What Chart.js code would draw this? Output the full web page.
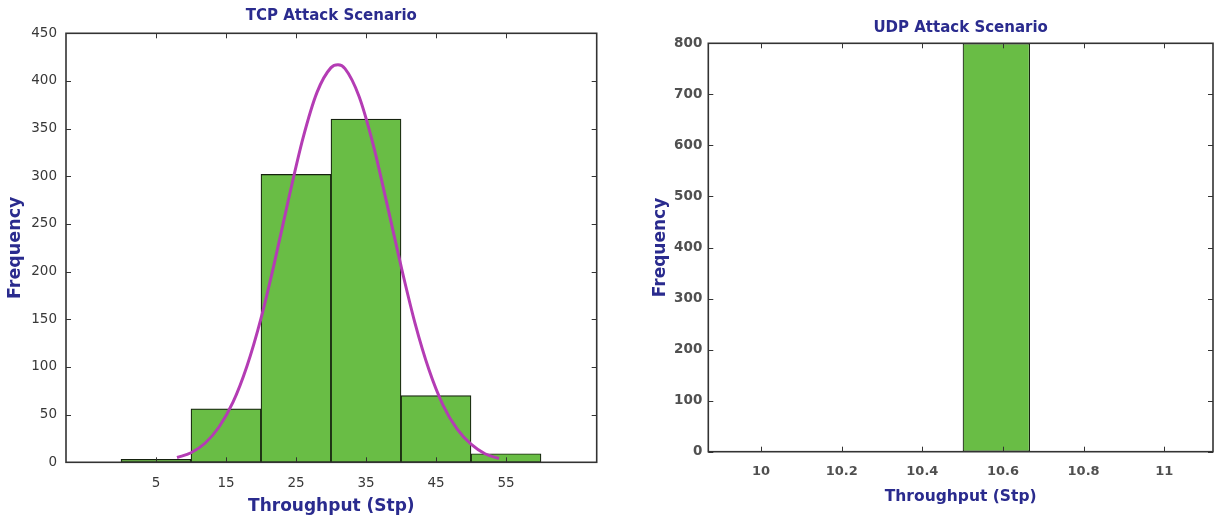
<!DOCTYPE html>
<html>
<head>
<meta charset="utf-8">
<script src="https://cdn.jsdelivr.net/npm/chart.js@4.4.1/dist/chart.umd.min.js"></script>
<style>
  html, body { margin: 0; padding: 0; background: #ffffff; }
  body { width: 1215px; height: 525px; position: relative; overflow: hidden; }
  canvas { position: absolute; top: 0; }
  #tcp { left: 0px; }
  #udp { left: 640px; }
</style>
</head>
<body>
<canvas id="tcp" width="610" height="525"></canvas>
<canvas id="udp" width="575" height="525"></canvas>
<script>
// ---------- TCP data ----------
const tcpBinCenters = [5, 15, 25, 35, 45, 55];
const tcpCounts     = [3, 56, 302, 360, 70, 9];
const tcpFitX = [8, 10, 12, 14, 16, 18, 20, 22, 24, 26, 28, 30, 31, 32, 34, 36, 38, 40, 42, 44, 46, 48, 50, 52, 54];
const tcpFitY = [5, 10, 20, 37, 63, 101, 151, 212, 278, 340, 388, 414, 417, 413, 384, 334, 271, 206, 146, 97, 60, 35, 19, 9, 4];
const tcpXTicks = [5, 15, 25, 35, 45, 55];
const tcpYTicks = [0, 50, 100, 150, 200, 250, 300, 350, 400, 450];

// ---------- UDP data ----------
const udpBinLeft  = [10.5];
const udpBinRight = [10.667];
const udpCounts   = [800];
const udpXTicks = [10, 10.2, 10.4, 10.6, 10.8, 11];
const udpXTickLabels = ['10', '10.2', '10.4', '10.6', '10.8', '11'];
const udpYTicks = [0, 100, 200, 300, 400, 500, 600, 700, 800];

const NAVY = '#2a2b8e';
const GREEN = '#69bd45';
const BAR_EDGE = '#16220f';
const CURVE = '#b43cb4';

const framePlugin = {
  id: 'matlabFrame',
  afterDatasetsDraw(chart, args, opts) {
    const {ctx, chartArea: a} = chart;
    const x = chart.scales.x, y = chart.scales.y;
    const L = opts.tickLen;
    ctx.save();
    ctx.strokeStyle = opts.color;
    ctx.lineWidth = 1;
    ctx.beginPath();
    x.ticks.forEach(t => {
      const px = Math.round(x.getPixelForValue(t.value)) + 0.5;
      ctx.moveTo(px, a.bottom); ctx.lineTo(px, a.bottom - L);
      ctx.moveTo(px, a.top); ctx.lineTo(px, a.top + L);
    });
    y.ticks.forEach(t => {
      const py = Math.round(y.getPixelForValue(t.value)) + 0.5;
      ctx.moveTo(a.left, py); ctx.lineTo(a.left + L, py);
      ctx.moveTo(a.right, py); ctx.lineTo(a.right - L, py);
    });
    ctx.stroke();
    ctx.lineWidth = opts.frameWidth;
    ctx.strokeRect(a.left, a.top, a.right - a.left, a.bottom - a.top);
    ctx.restore();
  }
};

function setTicks(values) {
  return function (scale) { scale.ticks = values.map(v => ({value: v})); };
}

// ---------- TCP chart ----------
new Chart(document.getElementById('tcp'), {
  type: 'bar',
  data: {
    datasets: [
      {
        type: 'line',
        order: 0,
        data: tcpFitX.map((v, i) => ({x: v, y: tcpFitY[i]})),
        borderColor: CURVE,
        borderWidth: 3,
        pointRadius: 0,
        fill: false,
        cubicInterpolationMode: 'monotone'
      },
      {
        type: 'bar',
        order: 1,
        data: tcpBinCenters.map((v, i) => ({x: v, y: tcpCounts[i]})),
        backgroundColor: GREEN,
        borderColor: BAR_EDGE,
        borderWidth: 1.2,
        borderSkipped: false,
        barPercentage: 1,
        categoryPercentage: 1
      }
    ]
  },
  options: {
    responsive: false,
    animation: false,
    layout: { padding: { left: 0, right: 13.3, top: 0, bottom: 0 } },
    plugins: {
      legend: { display: false },
      tooltip: { enabled: false },
      title: {
        display: true,
        fullSize: false,
        text: 'TCP Attack Scenario',
        color: NAVY,
        font: { family: 'DejaVu Sans', size: 15, weight: 'bold' },
        padding: { top: 7, bottom: 8.3 }
      },
      matlabFrame: { color: '#333333', tickLen: 5, frameWidth: 1.6 }
    },
    scales: {
      x: {
        type: 'linear',
        min: -7.86,
        max: 67.96,
        offset: false,
        afterBuildTicks: setTicks(tcpXTicks),
        afterFit(scale) { scale.height = 62.7; },
        grid: { display: false, drawTicks: false },
        border: { display: false },
        ticks: {
          color: '#383838',
          padding: 13,
          maxRotation: 0,
          autoSkip: false,
          font: { family: 'DejaVu Sans', size: 13.5 }
        },
        title: {
          display: true,
          text: 'Throughput (Stp)',
          color: NAVY,
          font: { family: 'DejaVu Sans', size: 17, weight: 'bold' },
          padding: { top: 0, bottom: 7.8 }
        }
      },
      y: {
        min: 0,
        max: 450,
        afterBuildTicks: setTicks(tcpYTicks),
        afterFit(scale) { scale.width = 66; },
        grid: { display: false, drawTicks: false },
        border: { display: false },
        ticks: {
          color: '#383838',
          padding: 9,
          autoSkip: false,
          font: { family: 'DejaVu Sans', size: 13.5 }
        },
        title: {
          display: true,
          text: 'Frequency',
          color: NAVY,
          font: { family: 'DejaVu Sans', size: 17.5, weight: 'bold' },
          padding: { top: 5, bottom: 0 }
        }
      }
    }
  },
  plugins: [framePlugin]
});

// ---------- UDP chart ----------
const udpTickStep = udpXTicks[1] - udpXTicks[0];
const udpBinCenters = udpBinLeft.map((l, i) => (l + udpBinRight[i]) / 2);
const udpBarPct = (udpBinRight[0] - udpBinLeft[0]) / udpTickStep;

new Chart(document.getElementById('udp'), {
  type: 'bar',
  data: {
    datasets: [
      {
        type: 'bar',
        data: udpBinCenters.map((v, i) => ({x: v, y: udpCounts[i]})),
        backgroundColor: GREEN,
        borderColor: BAR_EDGE,
        borderWidth: 1.2,
        borderSkipped: false,
        barPercentage: udpBarPct,
        categoryPercentage: 1
      }
    ]
  },
  options: {
    responsive: false,
    animation: false,
    layout: { padding: { left: 0, right: 2, top: 0, bottom: 0 } },
    plugins: {
      legend: { display: false },
      tooltip: { enabled: false },
      title: {
        display: true,
        fullSize: false,
        text: 'UDP Attack Scenario',
        color: NAVY,
        font: { family: 'DejaVu Sans', size: 15, weight: 'bold' },
        padding: { top: 19, bottom: 6.3 }
      },
      matlabFrame: { color: '#333333', tickLen: 5, frameWidth: 1.6 }
    },
    scales: {
      x: {
        type: 'linear',
        min: 9.869,
        max: 11.121,
        offset: false,
        afterBuildTicks: setTicks(udpXTicks),
        afterFit(scale) { scale.height = 73.3; },
        grid: { display: false, drawTicks: false },
        border: { display: false },
        ticks: {
          color: '#505050',
          padding: 12,
          maxRotation: 0,
          autoSkip: false,
          font: { family: 'DejaVu Sans', size: 13, weight: 'bold' },
          callback: function (value, index) { return udpXTickLabels[index]; }
        },
        title: {
          display: true,
          text: 'Throughput (Stp)',
          color: NAVY,
          font: { family: 'DejaVu Sans', size: 15.5, weight: 'bold' },
          padding: { top: 0, bottom: 19 }
        }
      },
      y: {
        min: 0,
        max: 800,
        afterBuildTicks: setTicks(udpYTicks),
        afterFit(scale) { scale.width = 68.3; },
        grid: { display: false, drawTicks: false },
        border: { display: false },
        ticks: {
          color: '#505050',
          padding: 6,
          autoSkip: false,
          font: { family: 'DejaVu Sans', size: 13.5, weight: 'bold' }
        },
        title: {
          display: true,
          text: 'Frequency',
          color: NAVY,
          font: { family: 'DejaVu Sans', size: 17, weight: 'bold' },
          padding: { top: 10, bottom: 0 }
        }
      }
    }
  },
  plugins: [framePlugin]
});
</script>
</body>
</html>
